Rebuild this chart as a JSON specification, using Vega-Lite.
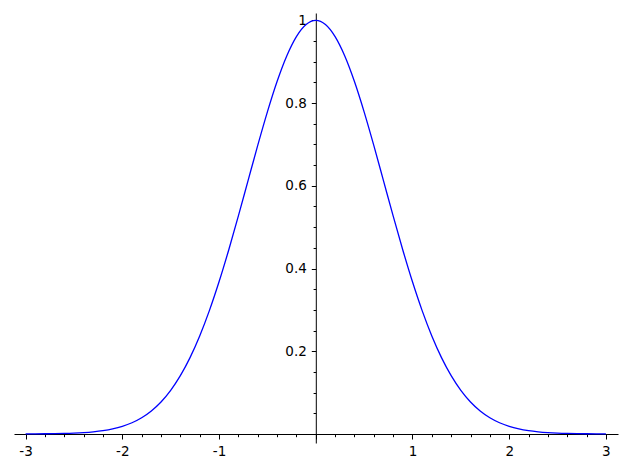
{
  "$schema": "https://vega.github.io/schema/vega-lite/v6.json",
  "width": 604,
  "height": 430,
  "autosize": {"type": "none"},
  "padding": {"left": 14, "top": 13, "right": 12, "bottom": 25},
  "background": "white",
  "config": {
    "view": {"stroke": null},
    "axis": {
      "grid": false,
      "domainColor": "black",
      "domainWidth": 1,
      "tickColor": "black",
      "tickWidth": 1,
      "labelColor": "black",
      "labelFont": "DejaVu Sans",
      "labelFontSize": 13.5,
      "labelOverlap": false,
      "labelFlush": false,
      "title": null
    }
  },
  "data": {
    "values": [
      {"x": -3.0, "y": 0.000123}, {"x": -2.9, "y": 0.000223}, {"x": -2.8, "y": 0.000394},
      {"x": -2.7, "y": 0.000682}, {"x": -2.6, "y": 0.001159}, {"x": -2.5, "y": 0.00193},
      {"x": -2.4, "y": 0.003151}, {"x": -2.3, "y": 0.005042}, {"x": -2.2, "y": 0.007907},
      {"x": -2.1, "y": 0.012155}, {"x": -2.0, "y": 0.018316}, {"x": -1.9, "y": 0.027052},
      {"x": -1.8, "y": 0.039164}, {"x": -1.7, "y": 0.055576}, {"x": -1.6, "y": 0.077305},
      {"x": -1.5, "y": 0.105399}, {"x": -1.4, "y": 0.140858}, {"x": -1.3, "y": 0.18452},
      {"x": -1.2, "y": 0.236928}, {"x": -1.1, "y": 0.298197}, {"x": -1.0, "y": 0.367879},
      {"x": -0.9, "y": 0.444858}, {"x": -0.8, "y": 0.527292}, {"x": -0.7, "y": 0.612626},
      {"x": -0.6, "y": 0.697676}, {"x": -0.5, "y": 0.778801}, {"x": -0.4, "y": 0.852144},
      {"x": -0.3, "y": 0.913931}, {"x": -0.2, "y": 0.960789}, {"x": -0.1, "y": 0.99005},
      {"x": 0.0, "y": 1.0},
      {"x": 0.1, "y": 0.99005}, {"x": 0.2, "y": 0.960789}, {"x": 0.3, "y": 0.913931},
      {"x": 0.4, "y": 0.852144}, {"x": 0.5, "y": 0.778801}, {"x": 0.6, "y": 0.697676},
      {"x": 0.7, "y": 0.612626}, {"x": 0.8, "y": 0.527292}, {"x": 0.9, "y": 0.444858},
      {"x": 1.0, "y": 0.367879}, {"x": 1.1, "y": 0.298197}, {"x": 1.2, "y": 0.236928},
      {"x": 1.3, "y": 0.18452}, {"x": 1.4, "y": 0.140858}, {"x": 1.5, "y": 0.105399},
      {"x": 1.6, "y": 0.077305}, {"x": 1.7, "y": 0.055576}, {"x": 1.8, "y": 0.039164},
      {"x": 1.9, "y": 0.027052}, {"x": 2.0, "y": 0.018316}, {"x": 2.1, "y": 0.012155},
      {"x": 2.2, "y": 0.007907}, {"x": 2.3, "y": 0.005042}, {"x": 2.4, "y": 0.003151},
      {"x": 2.5, "y": 0.00193}, {"x": 2.6, "y": 0.001159}, {"x": 2.7, "y": 0.000682},
      {"x": 2.8, "y": 0.000394}, {"x": 2.9, "y": 0.000223}, {"x": 3.0, "y": 0.000123}
    ]
  },
  "mark": {"type": "line", "color": "#0000ff", "strokeWidth": 1.3, "interpolate": "monotone", "clip": true},
  "encoding": {
    "x": {
      "field": "x",
      "type": "quantitative",
      "scale": {"domain": [-3.12, 3.125], "nice": false, "zero": false},
      "axis": {
        "orient": "bottom",
        "offset": -9,
        "values": [-3, -2.8, -2.6, -2.4, -2.2, -2, -1.8, -1.6, -1.4, -1.2, -1, -0.8, -0.6, -0.4, -0.2, 0, 0.2, 0.4, 0.6, 0.8, 1, 1.2, 1.4, 1.6, 1.8, 2, 2.2, 2.4, 2.6, 2.8, 3],
        "tickSize": {"condition": {"test": "abs(datum.value - round(datum.value)) < 1e-6", "value": 5}, "value": 2.7},
        "labelPadding": 5,
        "labelExpr": "(abs(datum.value - round(datum.value)) < 1e-6 && datum.value != 0) ? toString(round(datum.value)) : ''"
      }
    },
    "y": {
      "field": "y",
      "type": "quantitative",
      "scale": {"domain": [-0.022, 1.018], "nice": false, "zero": false},
      "axis": {
        "orient": "left",
        "offset": -301.8,
        "values": [0, 0.05, 0.1, 0.15, 0.2, 0.25, 0.3, 0.35, 0.4, 0.45, 0.5, 0.55, 0.6, 0.65, 0.7, 0.75, 0.8, 0.85, 0.9, 0.95, 1],
        "tickSize": {"condition": {"test": "abs(datum.value * 5 - round(datum.value * 5)) < 1e-6", "value": 4.5}, "value": 2.7},
        "labelPadding": 5,
        "labelExpr": "(abs(datum.value * 5 - round(datum.value * 5)) < 1e-6 && datum.value > 0.01) ? toString(round(datum.value * 5) / 5) : ''"
      }
    }
  }
}
